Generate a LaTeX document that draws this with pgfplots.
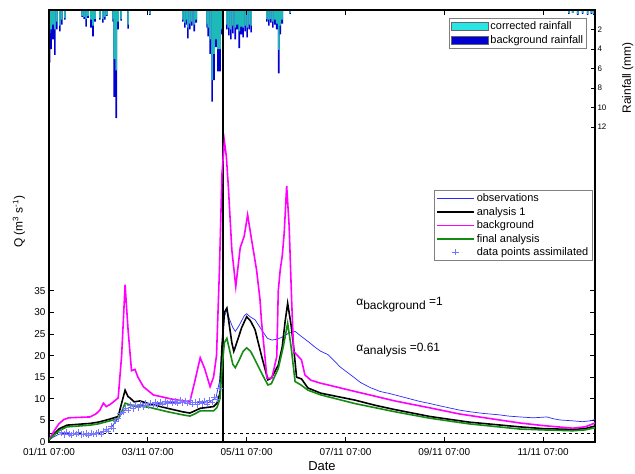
\documentclass[border=0pt]{standalone}
\usepackage{fontspec}
\setmainfont{Liberation Sans}
\usepackage{pgfplots}
\pgfplotsset{compat=1.18}
\definecolor{bgrain}{RGB}{0,0,210}
\definecolor{corrain}{RGB}{30,185,185}
\definecolor{legcyan}{RGB}{40,230,230}
\definecolor{obsblue}{RGB}{40,40,255}
\definecolor{ptsblue}{RGB}{120,120,255}
\definecolor{mymag}{RGB}{255,0,255}
\definecolor{mygreen}{RGB}{20,140,20}
\begin{document}
\begin{tikzpicture}
% ---------------- rainfall axis ----------------
\begin{axis}[
  scale only axis, width=546bp, height=432bp,
  xmin=0, xmax=11.05, ymin=0, ymax=44.3, y dir=reverse,
  axis y line*=right, axis x line=none,
  ytick={2,4,6,8,10,12},
  tick align=inside, major tick length=4bp,
  axis line style={line width=1.3bp},
  tick style={line width=0.8bp, black},
  yticklabel style={font=\fontsize{8}{9}\selectfont, xshift=-1bp},
  /pgf/number format/assume math mode=true,
  ylabel={Rainfall (mm)},
  every axis y label/.style={at={(axis description cs:1.06,0.843)}, rotate=90, anchor=center, font=\fontsize{12}{14}\selectfont},
  legend image code/.code={\draw[#1] (0bp,-4bp) rectangle (37bp,4bp);},
  legend style={at={(0.985,0.981)}, anchor=north east, draw=black!50, line width=0.5bp,
    font=\fontsize{11}{12}\selectfont, inner sep=1.5bp, row sep=0bp, cells={anchor=west}},
]
\addplot[ybar, bar width=1.6bp, bar shift=0pt, fill=bgrain, draw=none, forget plot] coordinates {
(0.01,5.4) (0.04,4.0) (0.08,3.0) (0.12,4.6) (0.16,2.0) (0.22,2.2) (0.26,1.5) (0.32,1.0)
(0.67,0.7) (0.71,0.9) (0.75,1.7) (0.79,0.8) (0.85,1.8) (0.89,2.7) (0.93,1.2)
(1.03,1.0) (1.09,1.3) (1.13,1.0) (1.17,0.6) (1.30,1.2) (1.32,8.9) (1.36,11.1) (1.40,2.0) (1.46,1.1) (1.60,1.9)
(2.04,0.5) (2.71,1.2) (2.75,1.8) (2.79,1.5) (2.81,2.9) (2.85,2.0) (2.89,1.6) (2.94,2.2) (2.98,1.3)
(3.20,1.8) (3.22,2.7) (3.26,4.5) (3.30,9.4) (3.34,7.2) (3.38,3.8) (3.42,6.3) (3.46,6.3) (3.50,2.5)
(3.60,2.0) (3.64,2.6) (3.68,3.0) (3.72,2.4) (3.77,3.0) (3.81,2.0) (3.85,3.9) (3.89,2.5) (3.93,2.8)
(3.97,2.2) (4.01,2.8) (4.05,2.0) (4.09,2.3)
(4.41,1.2) (4.45,1.6) (4.49,1.3) (4.53,1.8) (4.57,1.5) (4.61,2.0) (4.65,6.5) (4.68,2.5) (4.72,1.4) (4.88,0.4)
(10.52,0.4) (10.60,0.3) (10.70,0.5) (10.80,0.4) (10.90,0.5) (10.98,0.4) (11.03,0.5)
};
\addplot[ybar, bar width=1.6bp, bar shift=0pt, fill=corrain, draw=none, forget plot] coordinates {
(0.01,2.4) (0.04,2.0) (0.08,1.5) (0.12,2.0) (0.16,1.2) (0.22,1.6) (0.26,1.0) (0.32,0.8)
(0.67,0.6) (0.71,0.7) (0.75,0.9) (0.79,0.6) (0.85,1.0) (0.89,1.6) (0.93,0.9)
(1.03,0.8) (1.09,0.9) (1.13,0.7) (1.17,0.5) (1.30,0.9) (1.32,5.0) (1.36,6.2) (1.40,1.2) (1.46,0.9) (1.60,1.5)
(2.04,0.4) (2.71,1.0) (2.75,1.3) (2.79,1.0) (2.81,1.8) (2.85,1.4) (2.89,1.2) (2.94,1.5) (2.98,1.0)
(3.20,1.4) (3.22,1.8) (3.26,3.0) (3.30,7.2) (3.34,4.5) (3.38,3.0) (3.42,4.0) (3.46,4.0) (3.50,2.0)
(3.60,1.5) (3.64,1.8) (3.68,2.0) (3.72,1.6) (3.77,1.8) (3.81,1.5) (3.85,2.2) (3.89,1.7) (3.93,1.8)
(3.97,1.6) (4.01,1.8) (4.05,1.5) (4.09,1.6)
(4.41,0.9) (4.45,1.0) (4.49,0.9) (4.53,1.2) (4.57,1.0) (4.61,1.4) (4.65,4.1) (4.68,1.6) (4.72,1.0) (4.88,0.3)
(10.52,0.3) (10.60,0.3) (10.70,0.4) (10.80,0.3) (10.90,0.4) (10.98,0.3) (11.03,0.4)
};
\addlegendimage{fill=legcyan, draw=black!60}
\addlegendentry{corrected rainfall}
\addlegendimage{fill=bgrain, draw=black!60}
\addlegendentry{background rainfall}
\end{axis}
% ---------------- discharge axis ----------------
\begin{axis}[
  scale only axis, width=546bp, height=432bp,
  xmin=0, xmax=11.05, ymin=0, ymax=100,
  xtick={0,2,4,6,8,10},
  xticklabels={01/11 07:00,03/11 07:00,05/11 07:00,07/11 07:00,09/11 07:00,11/11 07:00},
  ytick={0,5,...,35},
  tick align=inside, major tick length=5bp,
  axis line style={line width=1.3bp},
  tick style={line width=0.8bp, black},
  tick label style={font=\fontsize{10}{12}\selectfont},
  xticklabel style={yshift=-2.5bp},
  /pgf/number format/assume math mode=true,
  xlabel={Date},
  every axis x label/.style={at={(axis description cs:0.5,-0.055)}, anchor=center, font=\fontsize{13}{15}\selectfont},
  ylabel={Q (m\textsuperscript{3} s\textsuperscript{-1})},
  every axis y label/.style={at={(axis description cs:-0.055,0.51)}, rotate=90, anchor=center, font=\fontsize{12}{14}\selectfont},
  legend image code/.code={\draw[mark repeat=2,mark phase=2,#1] plot coordinates {(0bp,0bp) (18.5bp,0bp) (37bp,0bp)};},
  legend style={at={(0.9945,0.583)}, anchor=north east, draw=black!50, line width=0.5bp,
    font=\fontsize{11}{12}\selectfont, inner sep=1.5bp, row sep=0bp, cells={anchor=west}},
]
\addplot[dashed, black, line width=0.7bp, forget plot] coordinates {(0,2) (11.05,2)};
\addplot[black, line width=1.8bp, forget plot] coordinates {(3.52,0) (3.52,100)};
% observations
\addplot[obsblue, line width=0.7bp] coordinates {
(0,0.5) (0.1,1.2) (0.2,1.8) (0.3,2.0) (0.5,1.9) (0.7,1.8) (0.9,1.9) (1.05,2.1) (1.15,2.6) (1.25,3.2)
(1.35,4.8) (1.45,6.2) (1.55,7.6) (1.65,8.1) (1.8,8.3) (2.0,8.6) (2.2,8.9) (2.4,9.1) (2.6,9.2) (2.8,9.3)
(2.95,9.1) (3.1,9.2) (3.2,9.0) (3.3,9.6) (3.38,10.3) (3.45,14) (3.5,22) (3.55,29) (3.6,30.6) (3.65,28.5)
(3.72,26.5) (3.77,25.6) (3.85,27) (3.95,29.2) (4.0,29.7) (4.08,28.9) (4.17,28.3) (4.3,26) (4.42,24) (4.51,23.6)
(4.62,23.8) (4.74,24.4) (4.85,25.2) (4.98,25.6) (5.1,24.5) (5.25,23.2) (5.4,21.8) (5.5,21.0) (5.65,20.2) (5.89,17.4)
(6.05,16.0) (6.19,14.8) (6.3,13.8) (6.5,12.6) (6.7,11.7) (6.9,11.2) (7.1,10.6) (7.3,10.0) (7.5,9.4) (7.71,8.9)
(7.9,8.4) (8.1,7.9) (8.3,7.4) (8.52,7.0) (8.8,6.6) (9.1,6.3) (9.3,6.0) (9.53,5.8) (9.8,5.6) (10.08,5.8)
(10.2,5.4) (10.34,5.1) (10.6,4.9) (10.8,4.7) (10.95,4.9) (11.05,5.2)
};
\addlegendentry{observations}
% analysis 1
\addplot[black, line width=1.6bp] coordinates {
(0,0.5) (0.1,1.8) (0.2,3.0) (0.36,3.9) (0.6,4.1) (0.83,4.3) (1.0,4.6) (1.2,5.2) (1.4,5.9) (1.47,9)
(1.54,12) (1.6,10.5) (1.64,10.2) (1.72,9.3) (1.84,9.5) (2.04,8.8) (2.4,7.8) (2.7,7.0) (2.85,6.7) (2.95,7.2)
(3.06,7.8) (3.2,8.0) (3.33,8.2) (3.4,9) (3.46,11.3) (3.5,22) (3.55,30) (3.6,31) (3.65,27) (3.7,23)
(3.74,21) (3.8,23) (3.9,26.5) (4.0,29) (4.08,28) (4.17,26) (4.3,20) (4.43,14.4) (4.5,14.8) (4.64,17.8)
(4.72,22) (4.78,28) (4.83,32.1) (4.9,27) (4.95,22.1) (5.01,15) (5.11,14.6) (5.24,12.5) (5.5,11.3) (6.19,9.7)
(6.6,8.5) (7.0,7.5) (7.71,5.9) (8.5,4.6) (9.53,3.5) (10.0,3.1) (10.6,2.9) (10.85,3.1) (11.05,3.7)
};
\addlegendentry{analysis 1}
% background
\addplot[mymag, line width=1.6bp] coordinates {
(0,0.5) (0.1,2.5) (0.2,4.2) (0.3,5.2) (0.4,5.6) (0.6,5.7) (0.83,5.8) (0.95,6.5) (1.03,7.4) (1.1,9.0)
(1.16,8.2) (1.25,8.8) (1.4,10.2) (1.47,20) (1.54,36.4) (1.6,26) (1.67,16.5) (1.74,16.8) (1.8,15) (1.91,12.8)
(2.11,10.9) (2.5,9.9) (2.85,9.3) (2.95,14) (3.06,19.5) (3.15,17) (3.26,12.8) (3.33,15) (3.39,20) (3.45,40)
(3.5,62) (3.55,69.6) (3.59,66) (3.63,59) (3.70,44.5) (3.78,36) (3.87,45) (3.95,47.6) (4.02,52.6) (4.10,46.8)
(4.20,39.9) (4.27,33) (4.3,28) (4.37,19.8) (4.41,14.8) (4.51,14.8) (4.61,19.8) (4.64,35) (4.68,39.9) (4.72,43)
(4.76,48.4) (4.81,59.3) (4.86,50) (4.91,33) (4.95,21) (5.11,19) (5.18,15.5) (5.3,14.3) (5.5,13.6) (5.65,13.2)
(6.19,11.7) (6.6,10.6) (7.0,9.5) (7.71,7.9) (8.3,6.5) (9.0,5.3) (9.53,4.4) (10.0,3.8) (10.6,3.2) (10.85,3.5)
(11.05,4.4)
};
\addlegendentry{background}
% final analysis
\addplot[mygreen, line width=1.6bp] coordinates {
(0,0.5) (0.1,1.6) (0.2,2.6) (0.36,3.5) (0.6,3.7) (0.83,3.9) (1.0,4.2) (1.2,4.8) (1.4,5.4) (1.47,7)
(1.54,9) (1.64,8.6) (1.84,8.3) (2.04,8.0) (2.4,7.0) (2.7,6.3) (2.85,6.0) (2.95,6.5) (3.06,7.2) (3.2,7.2)
(3.33,7.2) (3.4,8) (3.46,10) (3.5,17) (3.55,23) (3.6,24) (3.66,21) (3.72,18) (3.77,17.2) (3.85,19)
(3.93,21) (4.0,21.8) (4.08,21) (4.17,19) (4.3,16) (4.43,13.2) (4.5,13.5) (4.64,17) (4.74,22) (4.83,27.5)
(4.9,22) (4.98,14) (5.1,13.2) (5.24,12) (5.5,10.9) (6.19,8.9) (7.0,7.0) (7.71,5.5) (8.5,4.2) (9.53,3.0)
(10.0,2.8) (10.6,2.6) (10.85,2.8) (11.05,3.3)
};
\addlegendentry{final analysis}
% assimilated points
\addplot[only marks, mark=+, mark size=3.2bp, ptsblue, mark options={line width=0.5bp}] coordinates {
(0.25,2.2) (0.3,1.7) (0.35,2.3) (0.4,1.9) (0.45,1.6) (0.5,2.1) (0.55,1.8) (0.6,2.2) (0.65,1.7) (0.7,1.9)
(0.75,2.0) (0.8,1.6) (0.85,2.1) (0.9,1.8) (0.95,2.0) (1.0,2.3) (1.05,1.9) (1.1,2.4) (1.15,2.9) (1.2,2.5)
(1.25,3.6) (1.3,3.1) (1.35,4.9) (1.4,5.6) (1.45,6.6) (1.5,6.9) (1.55,7.9) (1.6,7.4) (1.65,8.5) (1.7,7.8)
(1.75,8.6) (1.8,8.0) (1.85,8.7) (1.9,8.2) (1.95,8.9) (2.0,8.4) (2.05,9.0) (2.1,8.6) (2.15,9.2) (2.2,8.7)
(2.25,9.3) (2.3,8.8) (2.35,9.4) (2.4,8.9) (2.45,9.5) (2.5,9.0) (2.55,9.4) (2.6,9.0) (2.65,9.6) (2.7,9.1)
(2.75,9.5) (2.8,9.0) (2.85,9.6) (2.9,8.8) (2.95,9.3) (3.0,8.7) (3.05,9.4) (3.1,8.9) (3.15,9.5) (3.2,8.8)
(3.25,9.7) (3.3,9.2) (3.35,10.4) (3.4,9.9) (3.45,12.5)
};
\addlegendentry{data points assimilated}
\node[anchor=west, font=\fontsize{12}{14}\selectfont] at (axis cs:6.15,31.8) {α\raisebox{-0.6ex}{background} =1};
\node[anchor=west, font=\fontsize{12}{14}\selectfont] at (axis cs:6.15,21.3) {α\raisebox{-0.6ex}{analysis} =0.61};
\end{axis}
\pgfresetboundingbox
\path[use as bounding box] (-49bp,-32bp) rectangle (586bp,442bp);
\end{tikzpicture}
\end{document}
